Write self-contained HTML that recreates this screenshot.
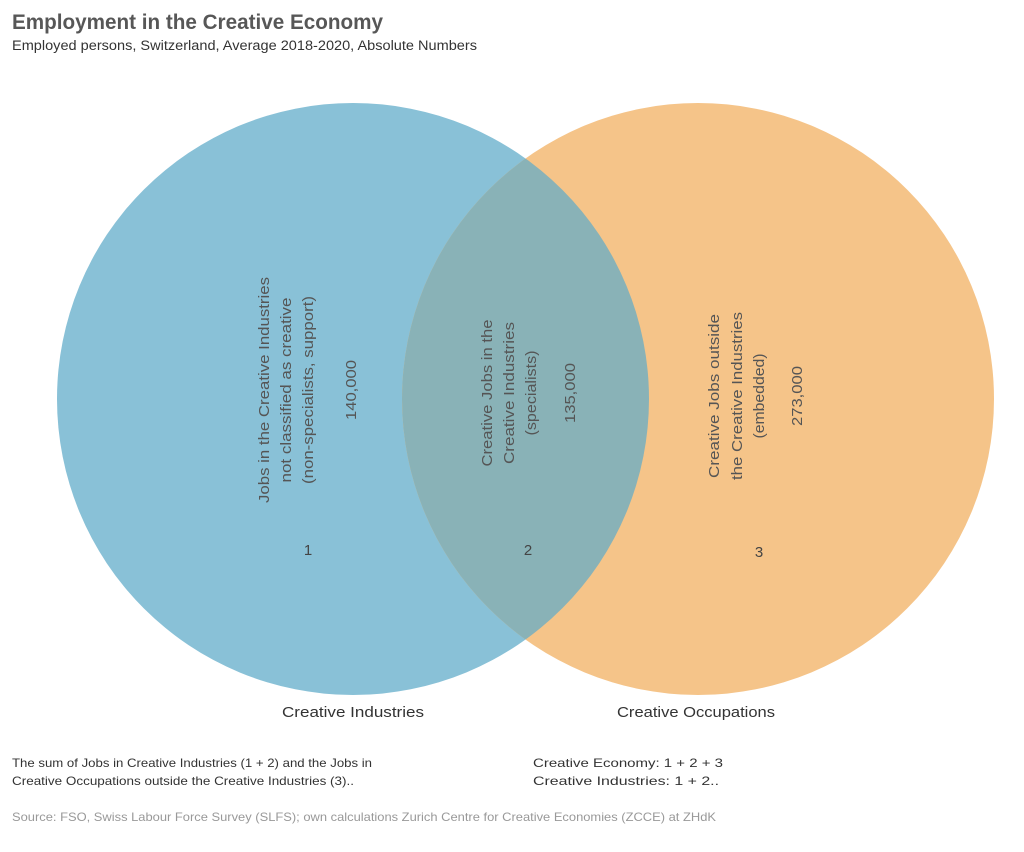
<!DOCTYPE html>
<html><head><meta charset="utf-8"><style>
html,body{margin:0;padding:0;background:#fff;}
svg{display:block;font-family:"Liberation Sans",sans-serif;}
</style></head><body>
<svg width="1024" height="852" viewBox="0 0 1024 852">
<text x="12" y="29" font-size="21" fill="#3a3a3a" textLength="371" lengthAdjust="spacingAndGlyphs" style="font-weight:bold;opacity:.85">Employment in the Creative Economy</text>
<text x="12" y="50" font-size="13.5" fill="#333" textLength="465" lengthAdjust="spacingAndGlyphs">Employed persons, Switzerland, Average 2018-2020, Absolute Numbers</text>
<circle cx="353" cy="399" r="296" fill="#89c1d7"/>
<circle cx="698" cy="399" r="296" fill="#f5c489"/>
<clipPath id="c"><circle cx="353" cy="399" r="296"/></clipPath>
<circle cx="698" cy="399" r="296" fill="#89b2b7" clip-path="url(#c)"/>
<g font-size="15" fill="#555" text-anchor="middle">
<g transform="translate(264,390) rotate(-90)"><text x="0" y="5" textLength="226" lengthAdjust="spacingAndGlyphs">Jobs in the Creative Industries</text></g>
<g transform="translate(286,390) rotate(-90)"><text x="0" y="5" textLength="185" lengthAdjust="spacingAndGlyphs">not classified as creative</text></g>
<g transform="translate(308,390) rotate(-90)"><text x="0" y="5" textLength="188" lengthAdjust="spacingAndGlyphs">(non-specialists, support)</text></g>
<g transform="translate(351,390) rotate(-90)"><text x="0" y="5" textLength="60" lengthAdjust="spacingAndGlyphs">140,000</text></g>
<g transform="translate(487,393) rotate(-90)"><text x="0" y="5" textLength="147" lengthAdjust="spacingAndGlyphs">Creative Jobs in the</text></g>
<g transform="translate(509,393) rotate(-90)"><text x="0" y="5" textLength="142" lengthAdjust="spacingAndGlyphs">Creative Industries</text></g>
<g transform="translate(531,393) rotate(-90)"><text x="0" y="5" textLength="85" lengthAdjust="spacingAndGlyphs">(specialists)</text></g>
<g transform="translate(570,393) rotate(-90)"><text x="0" y="5" textLength="60" lengthAdjust="spacingAndGlyphs">135,000</text></g>
<g transform="translate(714,396) rotate(-90)"><text x="0" y="5" textLength="164" lengthAdjust="spacingAndGlyphs">Creative Jobs outside</text></g>
<g transform="translate(737,396) rotate(-90)"><text x="0" y="5" textLength="168" lengthAdjust="spacingAndGlyphs">the Creative Industries</text></g>
<g transform="translate(759,396) rotate(-90)"><text x="0" y="5" textLength="85" lengthAdjust="spacingAndGlyphs">(embedded)</text></g>
<g transform="translate(797,396) rotate(-90)"><text x="0" y="5" textLength="60" lengthAdjust="spacingAndGlyphs">273,000</text></g>
<text x="308" y="555" fill="#444">1</text>
<text x="528" y="555" fill="#444">2</text>
<text x="759" y="557" fill="#444">3</text>
<text x="353" y="717" fill="#333" textLength="142" lengthAdjust="spacingAndGlyphs">Creative Industries</text>
<text x="696" y="717" fill="#333" textLength="158" lengthAdjust="spacingAndGlyphs">Creative Occupations</text>
</g>
<g font-size="12" fill="#333">
<text x="12" y="767" textLength="360" lengthAdjust="spacingAndGlyphs">The sum of Jobs in Creative Industries (1 + 2) and the Jobs in</text>
<text x="12" y="785" textLength="342" lengthAdjust="spacingAndGlyphs">Creative Occupations outside the Creative Industries (3)..</text>
<text x="533" y="767" textLength="190" lengthAdjust="spacingAndGlyphs">Creative Economy: 1 + 2 + 3</text>
<text x="533" y="785" textLength="186" lengthAdjust="spacingAndGlyphs">Creative Industries: 1 + 2..</text>
<text x="12" y="821" fill="#999" textLength="704" lengthAdjust="spacingAndGlyphs">Source: FSO, Swiss Labour Force Survey (SLFS);  own calculations Zurich Centre for Creative Economies (ZCCE) at ZHdK</text>
</g>
</svg>
</body></html>
